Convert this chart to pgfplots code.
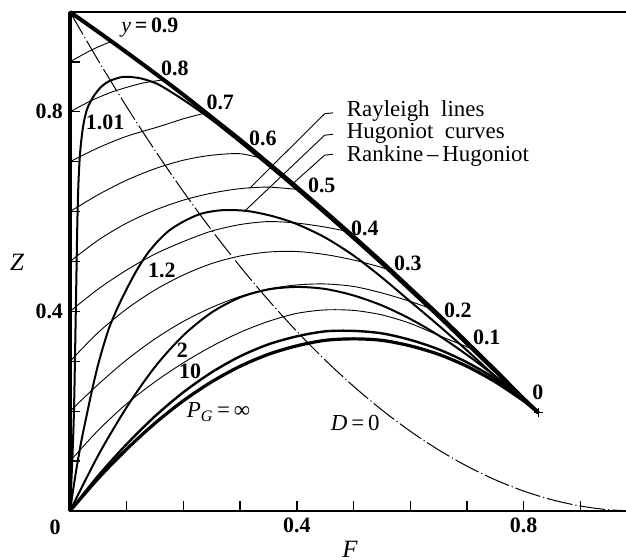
\documentclass[border=0pt]{standalone}
\usepackage{fontspec}
\setmainfont{Liberation Serif}
\usepackage{pgfplots}
\pgfplotsset{compat=1.18}
\tikzset{
  rhline/.style={line width=2bp, black},
  hug/.style={line width=1bp, black, smooth},
  ray/.style={line width=0.45bp, black, smooth},
  lead/.style={line width=0.45bp, black},
  num/.style={font=\fontsize{11}{13}\selectfont\bfseries},
  txt/.style={font=\fontsize{11.5}{13}\selectfont},
}
\begin{document}
\begin{tikzpicture}
\begin{axis}[
  name=ax,
  x=283.5bp, y=249.5bp,
  xmin=0, xmax=1, ymin=0, ymax=1,
  clip=false,
  axis line style={line width=1bp},
  xtick={0,0.1,0.2,0.3,0.4,0.5,0.6,0.7,0.8,0.9},
  ytick={0,0.1,0.2,0.3,0.4,0.5,0.6,0.7,0.8,0.9},
  xticklabels={{},{},{},{},0.4,{},{},{},0.8,{}},
  yticklabels={{},{},{},{},0.4,{},{},{},0.8,{}},
  xtick pos=left, ytick pos=left,
  tick align=inside,
  major tick length=5bp,
  tick style={line width=0.7bp, black},
  ticklabel style={font=\fontsize{11}{13}\selectfont\bfseries},
]
% Rayleigh lines (y = const)
\addplot[ray] coordinates {(0,0.9) (0.02,0.913) (0.04,0.925) (0.06,0.935) (0.073,0.941)};
\addplot[ray] coordinates {(0,0.8) (0.035,0.821) (0.07,0.838) (0.1,0.849) (0.13,0.858) (0.165,0.864)};
\addplot[ray] coordinates {(0,0.7) (0.05,0.728) (0.1,0.751) (0.159,0.771) (0.2,0.786) (0.24,0.798)};
\addplot[ray] coordinates {(0,0.6) (0.05,0.634) (0.1,0.663) (0.15,0.686) (0.2,0.703) (0.25,0.713) (0.3,0.716) (0.34,0.706)};
\addplot[ray] coordinates {(0,0.5) (0.05,0.543) (0.1,0.577) (0.15,0.603) (0.2,0.623) (0.25,0.637) (0.3,0.646) (0.35,0.649) (0.405,0.644)};
\addplot[ray] coordinates {(0,0.4) (0.05,0.445) (0.1,0.483) (0.15,0.515) (0.2,0.54) (0.25,0.561) (0.3,0.574) (0.35,0.58) (0.4,0.577) (0.45,0.569) (0.49,0.56)};
\addplot[ray] coordinates {(0,0.3) (0.05,0.358) (0.1,0.405) (0.15,0.443) (0.2,0.473) (0.25,0.496) (0.3,0.511) (0.35,0.519) (0.4,0.52) (0.45,0.514) (0.5,0.503) (0.55,0.488) (0.57,0.479)};
\addplot[ray] coordinates {(0,0.2) (0.05,0.254) (0.1,0.303) (0.15,0.345) (0.2,0.38) (0.25,0.408) (0.3,0.43) (0.35,0.445) (0.4,0.453) (0.45,0.455) (0.5,0.45) (0.55,0.437) (0.6,0.42) (0.64,0.404)};
\addplot[ray] coordinates {(0,0.1) (0.05,0.162) (0.1,0.215) (0.15,0.259) (0.2,0.297) (0.25,0.33) (0.3,0.358) (0.35,0.38) (0.4,0.396) (0.45,0.403) (0.5,0.402) (0.55,0.393) (0.6,0.376) (0.65,0.352) (0.7,0.329) (0.715,0.322)};
% D = 0
\addplot[line width=0.5bp, black, smooth, dash pattern=on 13bp off 1.5bp on 0.6bp off 1.5bp] coordinates {
 (0,1) (0.05,0.9025) (0.1,0.81) (0.15,0.7225) (0.2,0.64) (0.25,0.5625) (0.3,0.49) (0.35,0.4225) (0.4,0.36) (0.45,0.3025) (0.5,0.25) (0.55,0.2025) (0.6,0.16) (0.65,0.1225) (0.7,0.09) (0.75,0.0625) (0.8,0.04) (0.85,0.0225) (0.9,0.01) (0.95,0.0025) (1.0,0)};
% Hugoniot curves
\addplot[hug] coordinates {(0,0) (0.004,0.1) (0.007,0.2) (0.009,0.32) (0.011,0.45) (0.013,0.58) (0.015,0.66) (0.018,0.72) (0.023,0.77) (0.03,0.805) (0.041,0.83) (0.055,0.85) (0.07,0.862) (0.094,0.870) (0.12,0.868) (0.14,0.862) (0.159,0.853) (0.2,0.824) (0.25,0.784) (0.3,0.739) (0.35,0.692) (0.4,0.644) (0.45,0.595) (0.5,0.545) (0.55,0.494) (0.6,0.441) (0.65,0.388) (0.7,0.333) (0.75,0.278) (0.8,0.222) (0.826,0.197)};
\addplot[hug] coordinates {(0,0) (0.01,0.075) (0.02,0.14) (0.03,0.195) (0.04,0.248) (0.05,0.295) (0.06,0.335) (0.07,0.37) (0.085,0.41) (0.1,0.445) (0.118,0.483) (0.136,0.515) (0.156,0.542) (0.176,0.563) (0.2,0.58) (0.229,0.595) (0.26,0.602) (0.29,0.603) (0.32,0.6) (0.36,0.59) (0.4,0.575) (0.45,0.548) (0.5,0.512) (0.55,0.468) (0.6,0.42) (0.65,0.372) (0.7,0.322) (0.75,0.27) (0.8,0.221) (0.826,0.197)};
\addplot[hug] coordinates {(0,0) (0.05,0.112) (0.1,0.208) (0.15,0.289) (0.2,0.352) (0.25,0.398) (0.3,0.428) (0.35,0.444) (0.4,0.449) (0.45,0.445) (0.5,0.432) (0.55,0.412) (0.6,0.385) (0.65,0.352) (0.7,0.313) (0.75,0.27) (0.8,0.222) (0.826,0.197)};
\addplot[hug, line width=1.2bp] coordinates {(0,0) (0.05,0.071) (0.1,0.134) (0.15,0.19) (0.2,0.238) (0.25,0.278) (0.3,0.31) (0.35,0.334) (0.4,0.35) (0.45,0.36) (0.5,0.361) (0.55,0.356) (0.6,0.343) (0.65,0.324) (0.7,0.298) (0.75,0.265) (0.8,0.222) (0.826,0.197)};
\addplot[hug, line width=1.6bp] coordinates {(0,0) (0.05,0.0656) (0.1,0.124) (0.15,0.176) (0.2,0.221) (0.25,0.259) (0.3,0.29) (0.35,0.314) (0.4,0.331) (0.45,0.342) (0.5,0.345) (0.55,0.342) (0.6,0.331) (0.65,0.314) (0.7,0.29) (0.75,0.259) (0.8,0.221) (0.826,0.197)};
% Rankine-Hugoniot boundary and F=0 line
\addplot[rhline] coordinates {(0,0) (0,1)};
\addplot[rhline, smooth] coordinates {(0,1.000) (0.05,0.960) (0.1,0.919) (0.15,0.877) (0.2,0.834) (0.25,0.789) (0.3,0.744) (0.35,0.697) (0.4,0.649) (0.45,0.600) (0.5,0.550) (0.55,0.499) (0.6,0.446) (0.65,0.393) (0.7,0.338) (0.75,0.282) (0.8,0.225) (0.826,0.197)};
\addplot[only marks, mark=+, mark size=2.2bp, mark options={line width=0.7bp}] coordinates {(0.826,0.197)};
% leader lines
\draw[lead] (axis cs:0.317,0.647) -- (axis cs:0.449,0.796) -- (axis cs:0.464,0.798);
\draw[lead] (axis cs:0.309,0.602) -- (axis cs:0.449,0.753) -- (axis cs:0.464,0.755);
\draw[lead] (axis cs:0.393,0.656) -- (axis cs:0.449,0.713) -- (axis cs:0.464,0.715);
\node[txt, anchor=west] at (axis cs:0.476,0.802) {Rayleigh\ \ lines};
\node[txt, anchor=west] at (axis cs:0.476,0.757) {Hugoniot\ \ curves};
\node[txt, anchor=west] at (axis cs:0.476,0.711) {Rankine\,--\,Hugoniot};
% y labels
\node[num] at (axis cs:0.141,0.968) {\textit{\mdseries y}\,=\,0.9};
\node[num] at (axis cs:0.185,0.888) {0.8};
\node[num] at (axis cs:0.265,0.818) {0.7};
\node[num] at (axis cs:0.340,0.747) {0.6};
\node[num] at (axis cs:0.444,0.653) {0.5};
\node[num] at (axis cs:0.520,0.567) {0.4};
\node[num] at (axis cs:0.596,0.497) {0.3};
\node[num] at (axis cs:0.684,0.403) {0.2};
\node[num] at (axis cs:0.735,0.347) {0.1};
\node[num] at (axis cs:0.825,0.238) {0};
% Hugoniot labels
\node[num] at (axis cs:0.062,0.778) {1.01};
\node[num] at (axis cs:0.162,0.483) {1.2};
\node[num] at (axis cs:0.198,0.323) {2};
\node[num] at (axis cs:0.212,0.279) {10};
\node[txt] at (axis cs:0.262,0.198) {\textit{P}\textsubscript{\textit{G}}\,=\,∞};
\node[txt] at (axis cs:0.503,0.176) {\textit{D}\,=\,0};
% axis labels and corner zero
\node[num, xshift=-7.5bp, yshift=-8bp] at (axis cs:0,0) {0};
\node[txt, font=\fontsize{12.5}{13}\selectfont\itshape, xshift=-26.5bp] at (axis cs:0,0.499) {Z};
\node[txt, font=\fontsize{12.5}{13}\selectfont\itshape, yshift=-19bp] at (axis cs:0.494,0) {F};
\end{axis}
\pgfresetboundingbox
\path ([xshift=-35bp,yshift=-24.5bp]ax.south west) rectangle ([xshift=-5.5bp,yshift=6bp]ax.north east);
\end{tikzpicture}
\end{document}
